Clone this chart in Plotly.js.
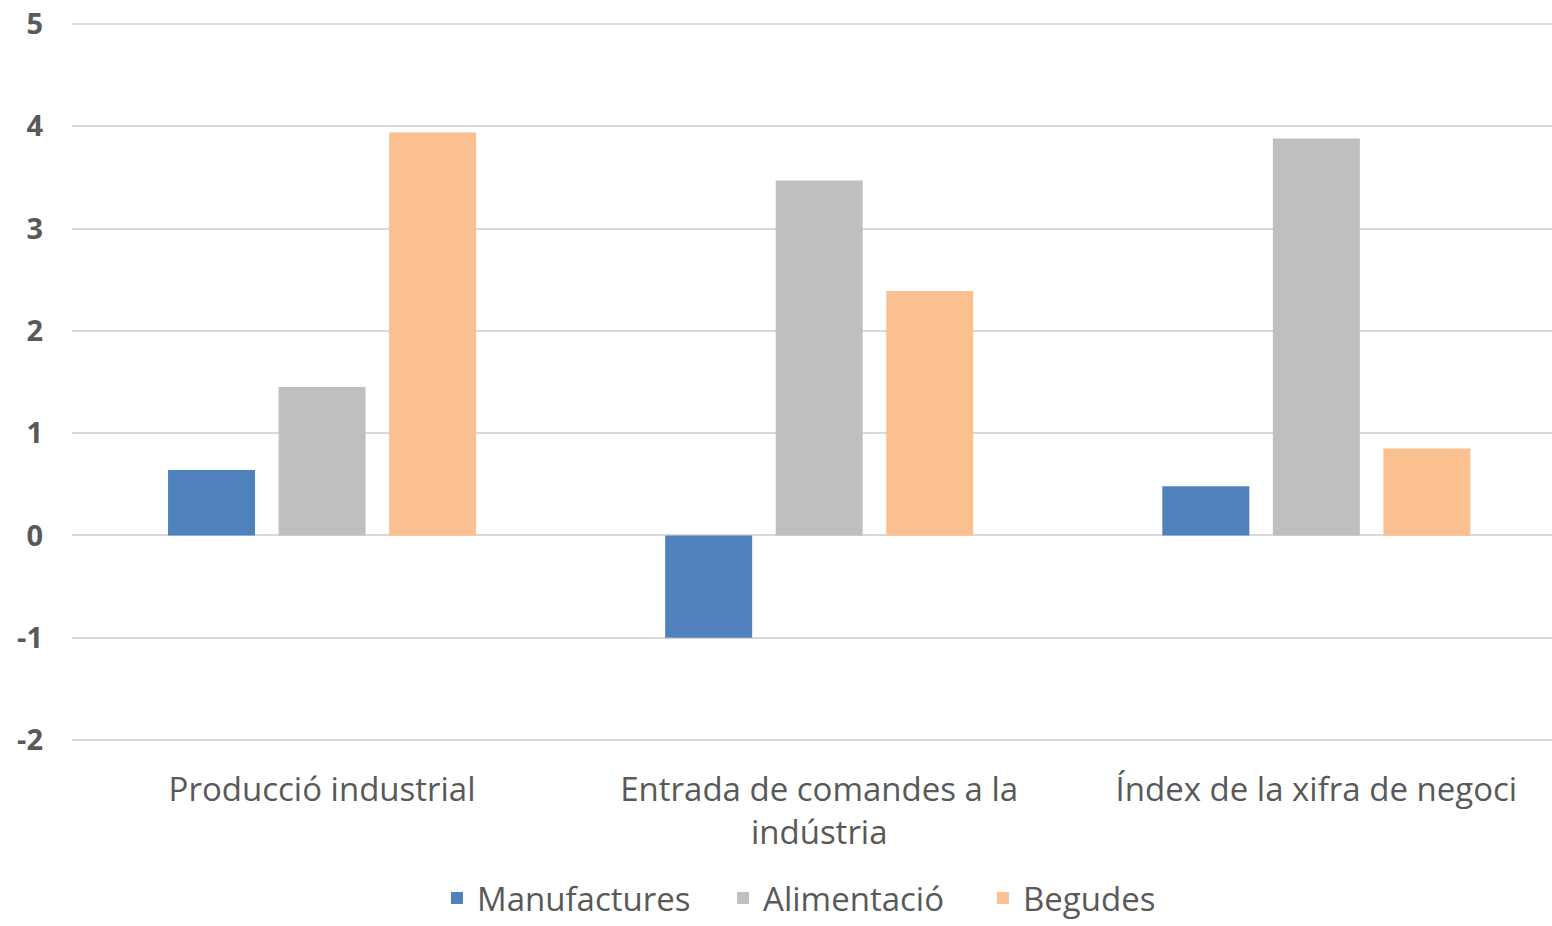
<!DOCTYPE html>
<html><head><meta charset="utf-8">
<script src="https://cdn.plot.ly/plotly-3.0.1.min.js"></script>
<style>body{margin:0;background:#fff}#chart{width:1552px;height:926px}</style>
</head><body><div id="chart"></div>
<script>
const categories = ["Producció industrial", "Entrada de comandes a la<br>indústria", "Índex de la xifra de negoci"];
const seriesNames = ["Manufactures", "Alimentació", "Begudes"];
const manufactures = [0.64, -1.0, 0.48];
const alimentacio = [1.45, 3.47, 3.88];
const begudes = [3.94, 2.39, 0.85];
const yTickVals = [-2, -1, 0, 1, 2, 3, 4, 5];
const yTickText = ["-2", "-1", "0", "1", "2", "3", "4", "5"];
const colors = ["#4F81BD", "#BFBFBF", "#FAC090"];
const values = [manufactures, alimentacio, begudes];
const legendIds = ["legend", "legend2", "legend3"];
const traces = values.map((v, i) => ({
  type: "bar", name: seriesNames[i], x: categories, y: v,
  marker: {color: colors[i]}, hoverinfo: "skip", legend: legendIds[i]
}));
const font = "'Open Sans', 'Noto Sans', sans-serif";
const legendBase = {orientation: "h", xanchor: "left", y: -0.2173, yanchor: "middle",
  font: {size: 33, color: "#595959"}, itemwidth: 30, bgcolor: "rgba(0,0,0,0)"};
Plotly.newPlot("chart", traces, {
  width: 1552, height: 926,
  margin: {l: 72, r: 0, t: 22, b: 177},
  paper_bgcolor: "#fff", plot_bgcolor: "#fff",
  barmode: "group", bargap: 0.333, bargroupgap: 0.213,
  font: {family: font, color: "#595959"},
  xaxis: {range: [-0.503, 2.474], tickfont: {size: 33, color: "#595959"}, showline: false, ticks: "", showgrid: false,
          ticklabelstandoff: 25, automargin: false},
  yaxis: {range: [-2.02, 5.02], tickvals: yTickVals, ticktext: yTickText, automargin: false,
          tickfont: {size: 29, color: "#595959", weight: "bold"},
          gridcolor: "#D9D9D9", gridwidth: 2, zeroline: true, zerolinecolor: "#D9D9D9", zerolinewidth: 2,
          ticklabelstandoff: 28},
  legend: Object.assign({}, legendBase, {x: 0.2466}),
  legend2: Object.assign({}, legendBase, {x: 0.4399}),
  legend3: Object.assign({}, legendBase, {x: 0.6155}),
  showlegend: true
}, {displayModeBar: false});
</script></body></html>
